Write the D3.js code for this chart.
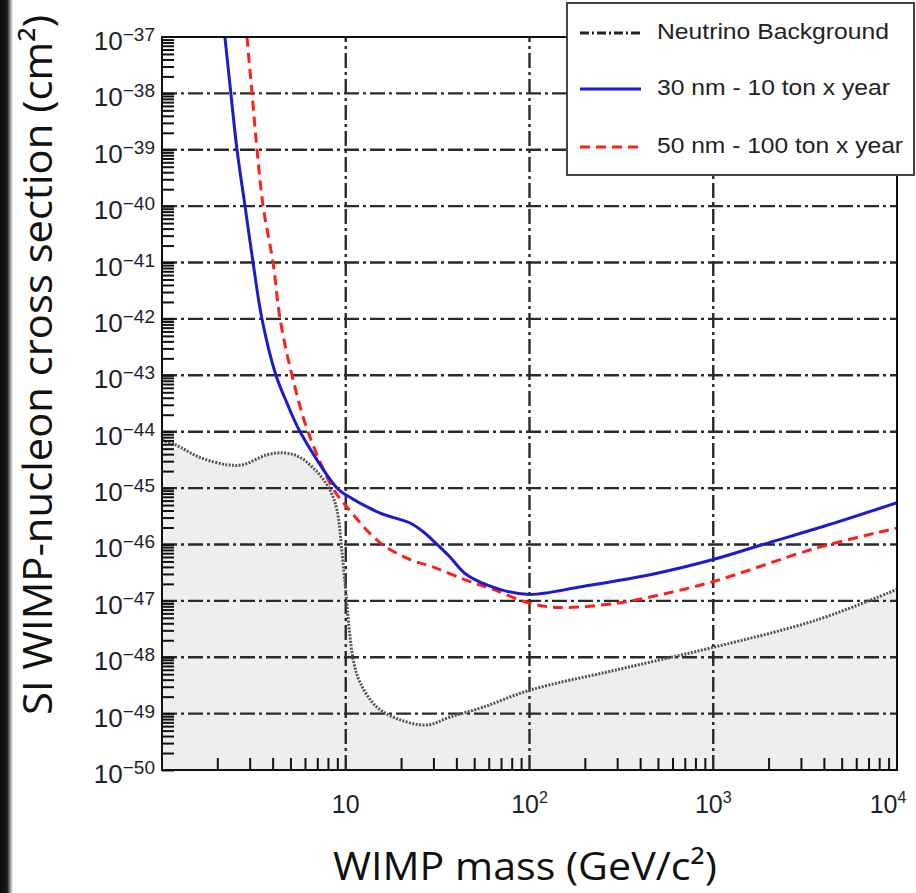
<!DOCTYPE html>
<html>
<head>
<meta charset="utf-8">
<script src="https://cdn.jsdelivr.net/npm/d3@7"></script>
<style>
  html, body { margin: 0; padding: 0; background: #fff; }
  svg { display: block; }
</style>
</head>
<body>
<div id="chart"></div>
<script>
// WIMP mass (GeV/c^2) and SI cross section (cm^2)
const neutrinoMass = [1, 1.18, 1.61, 2.26, 2.76, 3.73, 4.67, 5.64, 6.97, 8.2, 8.96, 9.52, 10.1, 10.5, 11.0, 12.0, 14.8, 19.7, 27.7, 36.9, 55.8, 100, 299, 1000, 3670, 10000];
const neutrinoSigma = [7.1e-45, 5.9e-45, 3.5e-45, 2.6e-45, 2.6e-45, 3.9e-45, 4.2e-45, 3.5e-45, 1.95e-45, 9.3e-46, 4.1e-46, 7.9e-47, 1.05e-47, 2.7e-48, 8.9e-49, 3.5e-49, 1.3e-49, 7.8e-50, 6.3e-50, 8.7e-50, 1.3e-49, 2.6e-49, 6.0e-49, 1.5e-48, 4.6e-48, 1.6e-47];

const blueMass = [2.2, 2.37, 2.56, 2.83, 3.13, 3.5, 4.17, 4.79, 5.64, 8.96, 10, 15.4, 22.4, 26.5, 31.4, 36.9, 45.5, 69, 100, 195, 453, 1000, 1866, 4000, 10000];
const blueSigma = [1e-37, 1e-38, 1e-39, 1e-40, 1e-41, 1e-42, 1e-43, 3.2e-44, 1e-44, 1e-45, 7.6e-46, 3.6e-46, 2.4e-46, 1.66e-46, 1e-46, 6.0e-47, 2.9e-47, 1.6e-47, 1.3e-47, 1.8e-47, 2.9e-47, 5.4e-47, 1e-46, 2.1e-46, 5.5e-46];

const redMass = [2.9, 3.09, 3.29, 3.55, 4.02, 4.39, 5.10, 6.23, 8.5, 10.1, 15.4, 22.4, 29.8, 45.5, 63.3, 100, 146, 299, 453, 1000, 3670, 10000];
const redSigma = [1e-37, 1e-38, 1e-39, 1e-40, 1e-41, 1e-42, 1e-43, 1e-44, 1e-45, 4.7e-46, 1.07e-46, 5.4e-47, 4.0e-47, 2.3e-47, 1.6e-47, 9.1e-48, 7.6e-48, 9.1e-48, 1.17e-47, 2.2e-47, 8.7e-47, 1.95e-46];

const xMajorExp = [1, 2, 3, 4];          // 10, 10^2, 10^3, 10^4
const yMajorExp = d3.range(-37, -51, -1); // 10^-37 ... 10^-50
const legendLabels = ['Neutrino Background', '30 nm - 10 ton x year', '50 nm - 100 ton x year'];

const width = 916, height = 893;
const margin = { top: 37, right: 19, bottom: 123, left: 162 };

const svg = d3.select('#chart').append('svg')
    .attr('width', width)
    .attr('height', height);

// dark strip on the left border of the screenshot
const defs = svg.append('defs');
const grad = defs.append('linearGradient').attr('id', 'edge').attr('x1', 0).attr('x2', 1);
grad.append('stop').attr('offset', '0%').attr('stop-color', '#0a0a0a');
grad.append('stop').attr('offset', '55%').attr('stop-color', '#1a1a1a');
grad.append('stop').attr('offset', '100%').attr('stop-color', '#ffffff');
svg.append('rect').attr('x', 0).attr('y', 0).attr('width', 13).attr('height', height).attr('fill', 'url(#edge)');

defs.append('clipPath').attr('id', 'plotClip')
    .append('rect')
    .attr('x', margin.left).attr('y', margin.top)
    .attr('width', width - margin.left - margin.right)
    .attr('height', height - margin.top - margin.bottom);

const x = d3.scaleLog().domain([1, 1e4]).range([margin.left, width - margin.right]);
const y = d3.scaleLog().domain([1e-50, 1e-37]).range([height - margin.bottom, margin.top]);

const toPts = (ms, ss) => ms.map((m, i) => [m, ss[i]]);
const neutrino = toPts(neutrinoMass, neutrinoSigma);
const blue = toPts(blueMass, blueSigma);
const red = toPts(redMass, redSigma);

const curve = d3.curveCatmullRom.alpha(0.5);
const plot = svg.append('g').attr('clip-path', 'url(#plotClip)');

// shaded neutrino floor
plot.append('path')
    .datum(neutrino)
    .attr('fill', '#eeeeee')
    .attr('d', d3.area()
        .x(d => x(d[0]))
        .y0(y(1e-50))
        .y1(d => y(d[1]))
        .curve(curve));

// dash-dot grid
const gridStyle = g => g.attr('stroke', '#2a2a2a').attr('stroke-width', 2.4).attr('stroke-dasharray', '15,4,3,4');
plot.append('g').selectAll('line')
    .data(yMajorExp.slice(1, -1))
    .join('line')
    .attr('x1', x(1)).attr('x2', x(1e4))
    .attr('y1', d => y(Math.pow(10, d))).attr('y2', d => y(Math.pow(10, d)))
    .call(gridStyle);
plot.append('g').selectAll('line')
    .data(xMajorExp.slice(0, -1))
    .join('line')
    .attr('y1', y(1e-50)).attr('y2', y(1e-37))
    .attr('x1', d => x(Math.pow(10, d))).attr('x2', d => x(Math.pow(10, d)))
    .call(gridStyle);

// inward ticks on bottom and left
const xTicks = [];
for (let e = 0; e < 4; e++) for (let k = 2; k <= 9; k++) xTicks.push(k * Math.pow(10, e));
const yTicks = [];
for (let e = -50; e < -37; e++) for (let k = 1; k <= 9; k++) yTicks.push(k * Math.pow(10, e));

const xAxis = svg.append('g')
    .attr('transform', `translate(0,${height - margin.bottom})`)
    .call(d3.axisBottom(x).tickValues(xTicks).tickSize(-12).tickFormat(''));
const yAxis = svg.append('g')
    .attr('transform', `translate(${margin.left},0)`)
    .call(d3.axisLeft(y).tickValues(yTicks).tickSize(-12).tickFormat(''));
[xAxis, yAxis].forEach(a => {
    a.select('.domain').remove();
    a.selectAll('.tick line').attr('stroke', '#111').attr('stroke-width', 2);
});

// curves
const line = d3.line().x(d => x(d[0])).y(d => y(d[1])).curve(curve);
plot.append('path').datum(neutrino)
    .attr('fill', 'none')
    .attr('stroke', '#555')
    .attr('stroke-width', 3)
    .attr('stroke-dasharray', '2,1.4')
    .attr('d', line);
plot.append('path').datum(red)
    .attr('fill', 'none')
    .attr('stroke', '#ff1f1f')
    .attr('stroke-width', 3)
    .attr('stroke-dasharray', '10,6')
    .attr('d', line);
plot.append('path').datum(blue)
    .attr('fill', 'none')
    .attr('stroke', '#1c1ccf')
    .attr('stroke-width', 3)
    .attr('d', line);

// frame
svg.append('rect')
    .attr('x', margin.left).attr('y', margin.top)
    .attr('width', width - margin.left - margin.right)
    .attr('height', height - margin.top - margin.bottom)
    .attr('fill', 'none')
    .attr('stroke', '#111')
    .attr('stroke-width', 2);

// tick labels
const labelFont = '"Liberation Sans", Arial, sans-serif';
svg.append('g').selectAll('text')
    .data(yMajorExp)
    .join('text')
    .attr('x', 155)
    .attr('y', d => y(Math.pow(10, d)) + 13)
    .attr('text-anchor', 'end')
    .attr('fill', '#1e1e2e')
    .attr('font-family', labelFont)
    .attr('font-size', 26)
    .each(function (d) {
        const t = d3.select(this);
        t.append('tspan').text('10');
        t.append('tspan').attr('font-size', 19).attr('dy', -9).text('\u2212' + Math.abs(d));
    });

svg.append('g').selectAll('text')
    .data(xMajorExp)
    .join('text')
    .attr('x', d => x(Math.pow(10, d)))
    .attr('dx', d => d === 4 ? -9 : 0)
    .attr('y', 813)
    .attr('text-anchor', 'middle')
    .attr('fill', '#1e1e2e')
    .attr('font-family', labelFont)
    .attr('font-size', 25)
    .each(function (d) {
        const t = d3.select(this);
        t.append('tspan').text('10');
        if (d > 1) t.append('tspan').attr('font-size', 16).attr('dy', -10).text(d);
    });

// axis titles
const titleFont = '"Open Sans", "DejaVu Sans", sans-serif';
svg.append('text')
    .attr('transform', 'translate(52,365) rotate(-90)')
    .attr('text-anchor', 'middle')
    .attr('font-family', titleFont)
    .attr('font-size', 40)
    .attr('fill', '#111')
    .attr('textLength', 700)
    .attr('lengthAdjust', 'spacingAndGlyphs')
    .text('SI WIMP-nucleon cross section (cm\u00b2)');
svg.append('text')
    .attr('x', 525)
    .attr('y', 880)
    .attr('text-anchor', 'middle')
    .attr('font-family', titleFont)
    .attr('font-size', 39)
    .attr('fill', '#111')
    .attr('textLength', 384)
    .attr('lengthAdjust', 'spacingAndGlyphs')
    .text('WIMP mass (GeV/c\u00b2)');

// legend
const legend = svg.append('g');
legend.append('rect')
    .attr('x', 567).attr('y', 3).attr('width', 347).attr('height', 172)
    .attr('fill', '#fff').attr('stroke', '#444').attr('stroke-width', 2);
const legendStyle = [
    { stroke: '#222', dash: '9,3,2,3', w: 3 },
    { stroke: '#1c1ccf', dash: null, w: 3 },
    { stroke: '#ff1f1f', dash: '10,6', w: 3 }
];
const legendY = [33, 89, 147];
const legendLen = [232, 233, 246];
legendLabels.forEach((lab, i) => {
    legend.append('line')
        .attr('x1', 580).attr('x2', 641)
        .attr('y1', legendY[i]).attr('y2', legendY[i])
        .attr('stroke', legendStyle[i].stroke)
        .attr('stroke-width', legendStyle[i].w)
        .attr('stroke-dasharray', legendStyle[i].dash);
    legend.append('text')
        .attr('x', 657)
        .attr('y', legendY[i] + 6)
        .attr('font-family', labelFont)
        .attr('font-size', 22)
        .attr('fill', '#222')
        .attr('textLength', legendLen[i])
        .attr('lengthAdjust', 'spacingAndGlyphs')
        .text(lab);
});
</script>
</body>
</html>
